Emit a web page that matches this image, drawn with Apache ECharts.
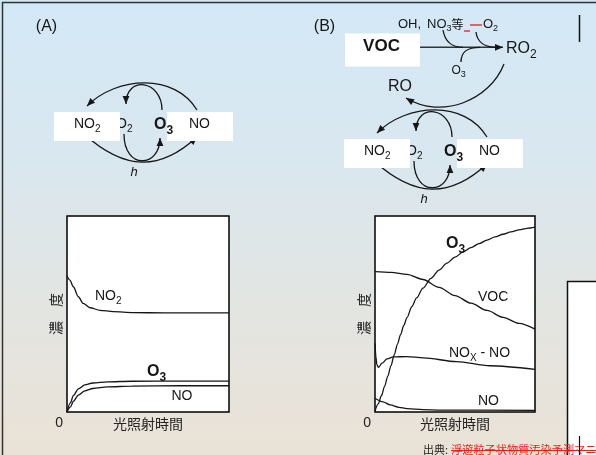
<!DOCTYPE html>
<html>
<head>
<meta charset="utf-8">
<script src="https://cdn.jsdelivr.net/npm/echarts@6/dist/echarts.min.js"></script>
<style>
html, body { margin: 0; padding: 0; background: #f2f2f2; }
#c {
  width: 596px; height: 455px;
  background: linear-gradient(180deg, #d3e8f6 0%, #d9e7ef 35%, #e2e5e2 65%, #eae2d6 100%);
}
</style>
</head>
<body>
<div id="c"></div>
<script>
// Irradiation time (0-100, arbitrary) and concentration (0-100, arbitrary) pairs.
// (A) NOx only
const no2A = [[0,69.5],[1.8,67.3],[3.9,63.9],[7,58.8],[10,55.4],[14.2,53.2],[20.4,51.9],[28.6,51.2],[40.9,50.7],[60,50.6],[80,50.6],[100,50.6]];
const o3A  = [[0,0],[2,4.5],[4,8.5],[7,11.8],[11,13.8],[16,14.8],[25,15.4],[40,15.7],[70,15.8],[100,15.8]];
const noA  = [[0,0],[2,2.5],[4,5.5],[7,8.6],[11,10.8],[16,12],[25,12.8],[40,13.2],[70,13.4],[100,13.4]];
// (B) NOx + VOC
const o3B    = [[0,0.5],[2,4.1],[4,8.3],[6,13.1],[8,18.3],[10,23.7],[12,29.1],[14,34.5],[16,39.5],[18,44.2],[20,48.2],[23,53.7],[26,58.2],[30,63.2],[35,68.2],[40,72.4],[45,76],[50,79],[55,81.6],[60,83.9],[65,85.9],[70,87.7],[75,89.3],[80,90.7],[85,91.9],[90,92.9],[95,93.7],[100,94.3]];
const vocB   = [[0,71.6],[10,71.2],[20,70.2],[30,67.6],[40,63.6],[50,59.4],[60,55.5],[70,51.8],[80,48.3],[90,45.2],[100,42.3]];
const noxNoB = [[0,35],[0.6,28],[1.2,24],[2.2,22.8],[4.4,24.9],[7.5,27.1],[11.6,28.1],[19.9,28.3],[30.3,27.6],[51,25.7],[71.8,23.6],[100,21.8]];
const noB    = [[0,7],[5,5.2],[9.5,3.6],[15,2.4],[19.9,1.7],[30,1.2],[40.7,1],[100,0.8]];

const axisTicks = [0];
const xTitle = '光照射時間';
const yTitle = '濃　度';

const LAT = "'Liberation Sans', Arial, sans-serif";
const CJK = "'Noto Sans CJK JP', 'Noto Sans CJK SC', sans-serif";
const INK = '#161616';

function richFor(size, bold) {
  return {
    n: { fontSize: size, fontFamily: LAT, fontWeight: bold ? 'bold' : 'normal', fill: INK, lineHeight: size + 2, height: size + 2 },
    s: { fontSize: Math.round(size * 0.72), fontFamily: LAT, fontWeight: bold ? 'bold' : 'normal', fill: INK, lineHeight: 6, height: 6, verticalAlign: 'bottom' }
  };
}
function label(x, y, text, size, opts) {
  opts = opts || {};
  return {
    type: 'text', x: x, y: y, z: opts.z || 50, silent: true,
    style: {
      text: text, rich: richFor(size, opts.bold),
      fontSize: size, fontFamily: opts.font || LAT, fontWeight: opts.bold ? 'bold' : 'normal',
      fontStyle: opts.italic ? 'italic' : 'normal',
      fill: opts.color || INK, align: opts.align || 'left', verticalAlign: 'middle'
    }
  };
}
function arrowHead(tip, from, z) {
  const dx = tip[0] - from[0], dy = tip[1] - from[1];
  const L = Math.hypot(dx, dy), ux = dx / L, uy = dy / L;
  const len = 8, hw = 3.4;
  const bx = tip[0] - ux * len, by = tip[1] - uy * len;
  return {
    type: 'polygon', z: z || 20, silent: true,
    shape: { points: [tip, [bx - uy * hw, by + ux * hw], [bx + uy * hw, by - ux * hw]] },
    style: { fill: INK }
  };
}
function curve(p0, c1, c2, p3, withArrow, color, w) {
  const els = [{
    type: 'bezierCurve', z: 20, silent: true,
    shape: { x1: p0[0], y1: p0[1], cpx1: c1[0], cpy1: c1[1], cpx2: c2[0], cpy2: c2[1], x2: p3[0], y2: p3[1] },
    style: { stroke: color || INK, lineWidth: w || 1.3, fill: null }
  }];
  if (withArrow) els.push(arrowHead(p3, c2));
  return els;
}
function box(x, y, w, h) {
  return { type: 'rect', z: 30, silent: true, shape: { x: x, y: y, width: w, height: h }, style: { fill: '#fff' } };
}

// NO2 / O3 / NO photostationary cycle, shifted by (dx, dy)
function cycle(dx, dy) {
  const P = (x, y) => [x + dx, y + dy];
  return [].concat(
    curve(P(197,110), P(175,73), P(117,76), P(87,106), true),
    curve(P(162,110), P(162,80), P(126,75), P(126,104), true),
    curve(P(84,134), P(125,171), P(160,171), P(197,137), true),
    curve(P(124,134), P(124,170), P(160,168), P(160,138), true),
    [
      label(116 + dx, 124.5 + dy, '{n|O}{s|2}', 14, { z: 25 }),
      box(54 + dx, 112 + dy, 66, 29),
      box(167 + dx, 112 + dy, 66, 29),
      label(74 + dx, 124.5 + dy, '{n|NO}{s|2}', 14),
      label(154 + dx, 124.5 + dy, '{n|O}{s|3}', 16, { bold: true }),
      label(189 + dx, 124.5 + dy, '{n|NO}', 14),
      label(134 + dx, 172 + dy, 'h', 13, { italic: true, align: 'center' })
    ]
  );
}

const graphics = [].concat(
  // page frame
  [{ type: 'polyline', z: 5, silent: true, shape: { points: [[2.5, 460], [2.5, 2.5], [600, 2.5]] }, style: { stroke: '#333', lineWidth: 1.5, fill: null } }],
  [label(46.5, 26.5, '(A)', 16, { align: 'center' }), label(324.5, 26.5, '(B)', 16, { align: 'center' })],
  [{ type: 'line', z: 5, silent: true, shape: { x1: 579.5, y1: 15, x2: 579.5, y2: 42 }, style: { stroke: '#111', lineWidth: 1.5 } }],
  cycle(0, 0),
  cycle(290, 27),
  // VOC oxidation branch
  [box(345, 33.5, 75, 33), label(381.5, 46, 'VOC', 17, { bold: true, align: 'center' })],
  curve([407, 47.3], [440, 47.3], [470, 47.3], [503, 47.3], true, '#333', 1.5),
  curve([443, 30], [445, 42], [452, 47.3], [463, 47.3], false),
  curve([476, 32], [477, 42], [485, 47.3], [497, 47.3], false),
  curve([461, 62], [461, 51], [468, 47.3], [480, 47.3], false),
  [
    label(398, 24.5, '{n|OH,}', 13),
    label(427, 24.5, '{n|NO}{s|3}', 13),
    label(451.5, 24.5, '等', 12, { font: CJK }),
    { type: 'line', z: 40, silent: true, shape: { x1: 470, y1: 25, x2: 482, y2: 25 }, style: { stroke: '#e01010', lineWidth: 1.2 } },
    { type: 'line', z: 40, silent: true, shape: { x1: 464, y1: 31, x2: 470, y2: 31 }, style: { stroke: '#e01010', lineWidth: 1.2 } },
    label(483, 24.5, '{n|O}{s|2}', 13),
    label(451.5, 71, '{n|O}{s|3}', 12),
    label(506, 49, '{n|RO}{s|2}', 16),
    label(388, 86.5, '{n|RO}', 16)
  ],
  curve([504, 64], [490, 100], [442, 120], [406, 98], true),
  // curve labels inside the plots
  [
    label(95, 296, '{n|NO}{s|2}', 14, { z: 60 }),
    label(147, 372, '{n|O}{s|3}', 16, { bold: true, z: 60 }),
    label(171.5, 396, '{n|NO}', 14, { z: 60 }),
    label(446, 244, '{n|O}{s|3}', 16, { bold: true, z: 60 }),
    label(478, 297.5, '{n|VOC}', 14, { z: 60 }),
    label(449, 353, '{n|NO}{s|X}{n| - NO}', 14, { z: 60 }),
    label(478, 401, '{n|NO}', 14, { z: 60 })
  ],
  // side panel and source line
  [
    { type: 'rect', z: 5, silent: true, shape: { x: 567.5, y: 281.5, width: 40, height: 200 }, style: { fill: '#fff', stroke: '#111', lineWidth: 1.5 } },
    label(423, 450, '出典:', 11, { font: CJK, color: '#222', z: 70 }),
    label(451, 450, '浮遊粒子状物質汚染予測マニュアル', 11.2, { font: CJK, color: '#f01c1c', z: 70 }),
    { type: 'line', z: 71, silent: true, shape: { x1: 451, y1: 450.5, x2: 600, y2: 450.5 }, style: { stroke: '#f01c1c', lineWidth: 1 } },
    { type: 'line', z: 72, silent: true, shape: { x1: 579.5, y1: 436, x2: 579.5, y2: 455 }, style: { stroke: '#111', lineWidth: 1.2 } }
  ]
);

function xAx(i) {
  return {
    gridIndex: i, type: 'value', min: 0, max: 100, interval: 100,
    axisLine: { show: false }, axisTick: { show: false }, splitLine: { show: false },
    axisLabel: {
      formatter: v => axisTicks.indexOf(v) >= 0 ? String(v) : '',
      align: 'right', padding: [0, 4, 0, 0], margin: 4,
      fontSize: 14, fontFamily: LAT, color: '#222', showMinLabel: true
    },
    name: xTitle, nameLocation: 'middle', nameGap: 5, nameMoveOverlap: false,
    nameTextStyle: { fontSize: 14, fontFamily: CJK, color: '#222' }
  };
}
function yAx(i) {
  return {
    gridIndex: i, type: 'value', min: 0, max: 100,
    axisLine: { show: false }, axisTick: { show: false }, splitLine: { show: false }, axisLabel: { show: false },
    name: yTitle, nameLocation: 'middle', nameGap: 4, nameMoveOverlap: false,
    nameTextStyle: { fontSize: 14, fontFamily: CJK, color: '#222' }
  };
}
function line(data, i) {
  return {
    type: 'line', xAxisIndex: i, yAxisIndex: i, data: data,
    showSymbol: false, smooth: 0.3, smoothMonotone: 'x', silent: true,
    lineStyle: { color: INK, width: 1.3 }, z: 3
  };
}

const chart = echarts.init(document.getElementById('c'), null, { renderer: 'canvas' });
chart.setOption({
  animation: false,
  backgroundColor: 'transparent',
  grid: [
    { left: 67, top: 216, width: 162, height: 196, show: true, backgroundColor: '#fff', borderColor: '#000', borderWidth: 1.5, outerBoundsMode: 'none' },
    { left: 375, top: 216, width: 160, height: 196, show: true, backgroundColor: '#fff', borderColor: '#000', borderWidth: 1.5, outerBoundsMode: 'none' }
  ],
  xAxis: [xAx(0), xAx(1)],
  yAxis: [yAx(0), yAx(1)],
  series: [line(no2A, 0), line(o3A, 0), line(noA, 0), line(o3B, 1), line(vocB, 1), line(noxNoB, 1), line(noB, 1)],
  graphic: { elements: graphics }
});
</script>
</body>
</html>
